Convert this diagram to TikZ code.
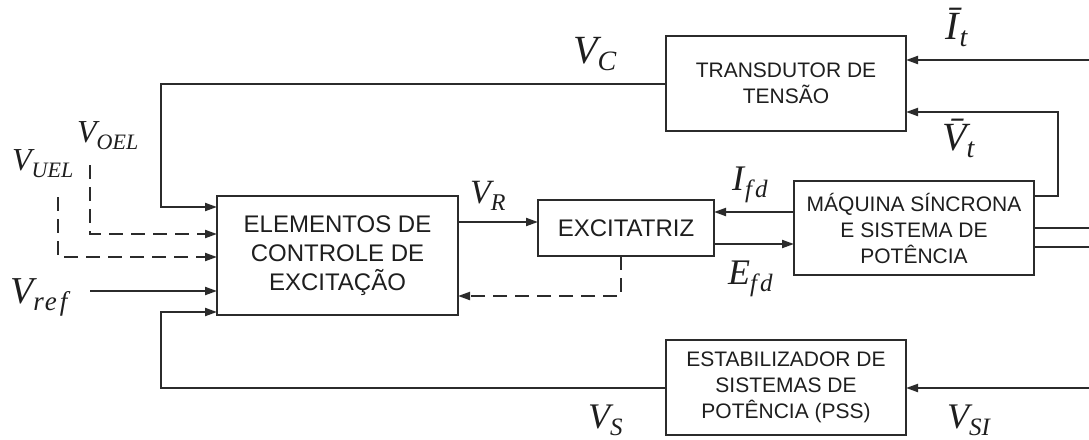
\documentclass[tikz,border=0pt]{standalone}
\usepackage{fontspec}
\usepackage{graphicx}
\setmainfont{Liberation Sans}
\newfontfamily\tms{Liberation Serif}
\usetikzlibrary{arrows.meta}
\definecolor{lc}{HTML}{2B2B2B}
\definecolor{tc}{HTML}{1E1E1E}
% #1 size, #2 letter, #3 subscript size, #4 subscript
\newcommand\msym[4]{{\tms\itshape\fontsize{#1}{#1}\selectfont #2\raisebox{-7pt}{\fontsize{#3}{#3}\selectfont #4}}}
\begin{document}
\begin{tikzpicture}[x=1pt,y=-1pt,
  blk/.style={draw=lc, line width=2pt, inner sep=0pt, align=center, text=tc},
  bigtxt/.style={font=\fontsize{24}{29}\selectfont},
  smalltxt/.style={font=\fontsize{21}{26}\selectfont},
  ln/.style={line width=2pt, draw=lc},
  arr/.style={ln, -{Triangle[length=12pt,width=8pt]}},
  dsh/.style={arr, dash pattern=on 14pt off 8pt},
  lab/.style={anchor=base west, inner sep=0pt, text=tc}]
\useasboundingbox (0,0) rectangle (1089,439);

% blocks
\node[blk,bigtxt,minimum width=241pt,minimum height=119pt] (ece) at (337.5,255.5) {ELEMENTOS DE\\CONTROLE DE\\EXCITAÇÃO};
\node[blk,bigtxt,minimum width=176pt,minimum height=56pt] (exc) at (626,228) {EXCITATRIZ};
\node[blk,smalltxt,minimum width=240pt,minimum height=95pt] (tr) at (786,83.5) {TRANSDUTOR DE\\TENSÃO};
\node[blk,smalltxt,minimum width=240pt,minimum height=94pt] (maq) at (914,228) {MÁQUINA SÍNCRONA\\E SISTEMA DE\\POTÊNCIA};
\node[blk,smalltxt,minimum width=240pt,minimum height=95pt] (pss) at (786,387.5) {ESTABILIZADOR DE\\SISTEMAS DE\\POTÊNCIA (PSS)};

% coordinates
\coordinate (vcc) at (161,207);
\coordinate (e1) at (217,207);
\coordinate (oel) at (90,165);
\coordinate (e2) at (217,234);
\coordinate (uel) at (58,197);
\coordinate (e3) at (217,257);
\coordinate (ref) at (90,291);
\coordinate (e4) at (217,291);
\coordinate (vsc) at (161,312);
\coordinate (e5) at (217,312);
\coordinate (r1) at (458,222);
\coordinate (r2) at (538,222);
\coordinate (i1) at (794,212);
\coordinate (i2) at (714,212);
\coordinate (f1) at (714,244);
\coordinate (f2) at (794,244);
\coordinate (d1) at (621,256);
\coordinate (d2) at (458,296);
\coordinate (it) at (1089,60);
\coordinate (t1) at (906,60);
\coordinate (m1) at (1034,196);
\coordinate (vt) at (1058,112);
\coordinate (t2) at (906,112);
\coordinate (m2) at (1034,228);
\coordinate (o2) at (1089,228);
\coordinate (m3) at (1034,247);
\coordinate (o3) at (1089,247);
\coordinate (si) at (1089,388);
\coordinate (p1) at (906,388);

% connectors
\draw[arr] (tr.west) -| (vcc) -- (e1);
\draw[dsh] (oel) |- (e2);
\draw[dsh] (uel) |- (e3);
\draw[arr] (ref) -- (e4);
\draw[arr] (pss.west) -| (vsc) -- (e5);
\draw[arr] (r1) -- (r2);
\draw[arr] (i1) -- (i2);
\draw[arr] (f1) -- (f2);
\draw[dsh] (d1) |- (d2);
\draw[arr] (it) -- (t1);
\draw[arr] (m1) -| (vt) -- (t2);
\draw[ln] (m2) -- (o2);
\draw[ln] (m3) -- (o3);
\draw[arr] (si) -- (p1);

% labels
\node[lab] (lvc) at (573,63) {\msym{40}{V}{28}{C}};
\node[lab] (lit) at (945,39) {\msym{40}{\={I}}{28}{\kern1pt t}};
\node[lab] (lvt) at (942,150) {\msym{40}{\={V}}{28}{t}};
\node[lab] (lvr) at (470,203) {\msym{34}{V}{24}{R}};
\node[lab] (lif) at (732,190) {\msym{36}{I}{25}{\kern1pt f\kern3pt d}};
\node[lab] (lef) at (728,284) {\msym{36}{E}{25}{f\kern3pt d}};
\node[lab] (loel) at (77,142) {\msym{32}{V}{22}{OEL}};
\node[lab] (luel) at (12,170) {\msym{32}{V}{22}{UEL}};
\node[lab] (lref) at (10,303) {\msym{38}{V}{27}{r\kern1pt e\kern3pt f}};
\node[lab] (lvs) at (588,428) {\msym{36}{V}{25}{S}};
\node[lab] (lvsi) at (947,428) {\msym{36}{V}{25}{SI}};
\end{tikzpicture}
\end{document}
